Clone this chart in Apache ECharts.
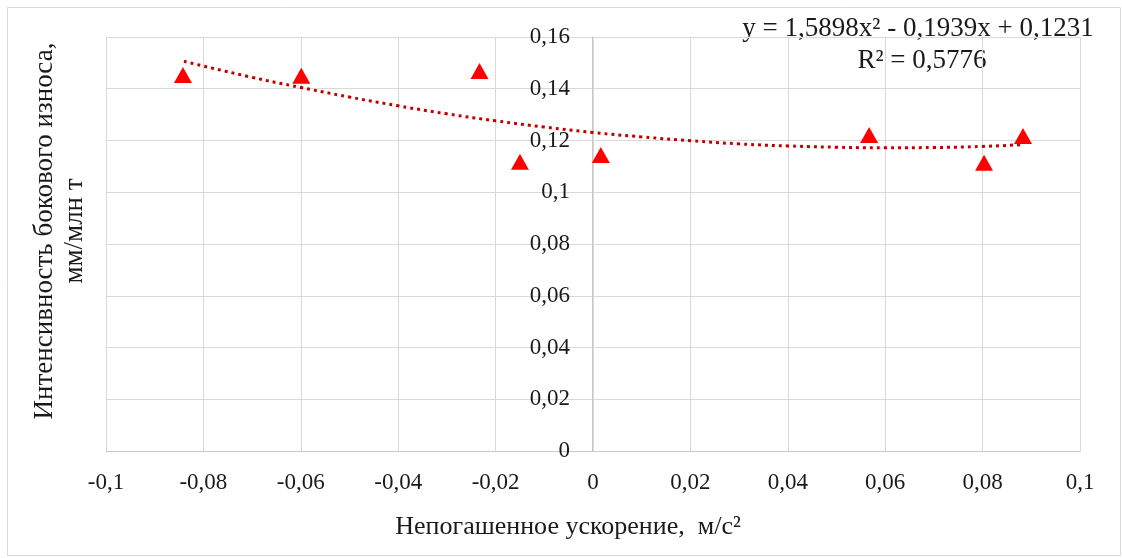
<!DOCTYPE html>
<html><head><meta charset="utf-8">
<script src="https://cdn.jsdelivr.net/npm/echarts@6/dist/echarts.min.js"></script>
<style>html,body{margin:0;padding:0;background:#fff}#c{width:1122px;height:558px}</style>
</head><body><div id="c"></div>
<script>
// measured points
const accel = [-0.0842, -0.0599, -0.0233, -0.0150, 0.0016, 0.0567, 0.0803, 0.0883];
const wear  = [0.1453, 0.1450, 0.1469, 0.1118, 0.1144, 0.1221, 0.1114, 0.1217];
// dotted trendline
const trendX = [-0.084, -0.07, -0.06, -0.05, -0.04, -0.03, -0.02, -0.01, 0, 0.01, 0.02, 0.03, 0.04, 0.05, 0.06, 0.07, 0.08, 0.088];
const trendY = [0.1506, 0.1444, 0.1405, 0.1368, 0.1334, 0.1303, 0.1276, 0.1252, 0.1231, 0.1214, 0.1199, 0.1187, 0.1179, 0.1174, 0.1172, 0.1173, 0.1177, 0.1184];
const xTitle = 'Непогашенное ускорение,  м/с²';
const yTitle = 'Интенсивность бокового износа,\nмм/млн т';
const eqLine1 = 'y = 1,5898x² - 0,1939x + 0,1231';
const eqLine2 = 'R² = 0,5776';

const fmt = v => { if (Math.abs(v) < 1e-9) return '0'; return String(Number(v.toFixed(2))).replace('.', ','); };
const FONT = '"Liberation Serif", "Times New Roman", serif';
const chart = echarts.init(document.getElementById('c'));
chart.setOption({
  backgroundColor: '#fff',
  animation: false,
  grid: { left: 106, right: 42, top: 37, bottom: 107 },
  xAxis: {
    type: 'value', min: -0.1, max: 0.1, interval: 0.02,
    axisLine: { show: true, onZero: false, lineStyle: { color: '#c8c8c8', width: 1 } },
    axisTick: { show: false },
    splitLine: { show: true, lineStyle: { color: '#d9d9d9', width: 1 } },
    axisLabel: { formatter: fmt, fontFamily: FONT, fontSize: 23, color: '#1a1a1a', margin: 20 }
  },
  yAxis: {
    type: 'value', min: 0, max: 0.16, interval: 0.02, offset: -486,
    axisLine: { show: true, onZero: false, lineStyle: { color: '#c8c8c8', width: 1 } },
    axisTick: { show: false },
    splitLine: { show: true, lineStyle: { color: '#d9d9d9', width: 1 } },
    axisLabel: { formatter: fmt, fontFamily: FONT, fontSize: 23, color: '#1a1a1a', margin: 22 }
  },
  series: [
    {
      type: 'line', data: trendX.map((x, i) => [x, trendY[i]]), smooth: true, showSymbol: false, symbol: 'none',
      lineStyle: { color: '#c00000', width: 3, type: [3, 4] }, z: 2
    },
    {
      type: 'scatter', data: accel.map((x, i) => [x, wear[i]]), symbol: 'triangle', symbolSize: [18, 16],
      itemStyle: { color: '#ff0000', opacity: 1 }, z: 3
    }
  ],
  graphic: [
    { type: 'rect', shape: { x: 7.5, y: 7.5, width: 1113, height: 548 }, style: { fill: 'none', stroke: '#d9d9d9', lineWidth: 1 }, z: -1 },
    { type: 'text', x: 568, y: 527, style: { text: xTitle, font: '26px ' + FONT, fill: '#1a1a1a', align: 'center', verticalAlign: 'middle' } },
    { type: 'text', x: 60, y: 231, rotation: Math.PI / 2, style: { text: yTitle, font: '27px ' + FONT, fill: '#1a1a1a', align: 'center', verticalAlign: 'middle', lineHeight: 30 } },
    { type: 'text', x: 918, y: 29, style: { text: eqLine1, font: '27px ' + FONT, fill: '#1a1a1a', align: 'center', verticalAlign: 'middle' } },
    { type: 'text', x: 922, y: 61, style: { text: eqLine2, font: '27px ' + FONT, fill: '#1a1a1a', align: 'center', verticalAlign: 'middle' } }
  ]
});
</script></body></html>
